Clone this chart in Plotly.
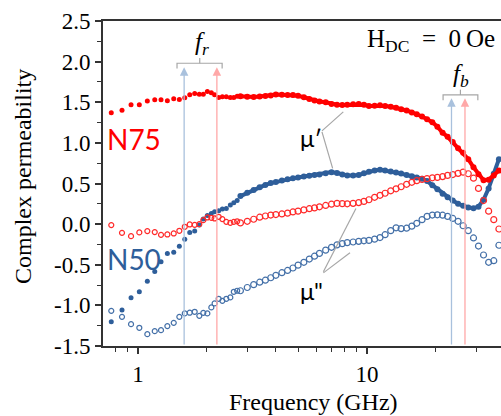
import numpy as np
import plotly.graph_objects as go

# ---------------- data ----------------
f_sparse = [0.764, 0.851, 0.932, 1.013, 1.098, 1.183, 1.26, 1.343, 1.432, 1.515, 1.60, 1.682,
            1.768, 1.852, 1.928, 2.008, 2.09, 2.16, 2.25, 2.335, 2.43, 2.53, 2.62, 2.71]
n75_mu1_sparse = [1.370, 1.403, 1.468, 1.468, 1.514, 1.530, 1.530, 1.518, 1.542, 1.535, 1.555, 1.592,
                  1.608, 1.600, 1.600, 1.633, 1.616, 1.592, 1.559, 1.567, 1.567, 1.559, 1.559, 1.575]
n75_mu2_sparse = [-0.012, -0.107, -0.148, -0.102, -0.086, -0.098, -0.132, -0.127, -0.115, -0.082, -0.033, -0.004,
                  -0.009, 0.000, 0.049, 0.082, 0.078, 0.070, 0.090, 0.062, 0.028, 0.016, 0.028, 0.035]
n50_mu1_sparse = [-1.202, -1.058, -0.907, -0.833, -0.702, -0.582, -0.464, -0.361, -0.345, -0.271, -0.185, -0.103,
                  -0.086, -0.010, 0.062, 0.107, 0.130, 0.152, 0.164, 0.185, 0.193, 0.234, 0.262, 0.290]
n50_mu2_sparse = [-1.067, -1.141, -1.231, -1.276, -1.354, -1.317, -1.305, -1.255, -1.215, -1.141, -1.099, -1.090,
                  -1.079, -1.129, -1.092, -1.099, -1.025, -0.976, -0.919, -0.944, -0.919, -0.902, -0.833, -0.820]

f_dense = [2.8, 3.0, 3.2, 3.4, 3.6, 3.8, 4.0, 4.25, 4.5, 4.75, 5.0, 5.3, 5.6, 5.9, 6.2, 6.6, 7.0, 7.4, 7.8,
           8.2, 8.7, 9.2, 9.7, 10.2, 10.8, 11.4, 12.0, 12.7, 13.4, 14.1, 14.9, 15.7, 16.5, 17.4, 18.3, 19.3,
           20.3, 21.4, 22.5, 23.7, 25.0, 26.3, 27.7, 29.2, 30.7, 32.3, 34.0, 35.8, 37.7]
n75_mu1_dense = [1.575, 1.567, 1.565, 1.570, 1.578, 1.582, 1.596, 1.592, 1.588, 1.590, 1.580, 1.562, 1.540,
                 1.522, 1.510, 1.500, 1.480, 1.470, 1.465, 1.468, 1.474, 1.478, 1.470, 1.455, 1.458, 1.462,
                 1.455, 1.445, 1.432, 1.415, 1.398, 1.375, 1.352, 1.325, 1.290, 1.255, 1.200, 1.125, 1.075,
                 1.010, 0.935, 0.880, 0.800, 0.700, 0.615, 0.540, 0.545, 0.600, 0.660]
n75_mu2_dense = [0.015, 0.035, 0.060, 0.085, 0.100, 0.112, 0.118, 0.125, 0.135, 0.150, 0.160, 0.175, 0.190,
                 0.200, 0.213, 0.230, 0.245, 0.255, 0.252, 0.250, 0.256, 0.265, 0.280, 0.300, 0.330, 0.355,
                 0.380, 0.410, 0.435, 0.460, 0.490, 0.515, 0.535, 0.550, 0.560, 0.570, 0.575, 0.585, 0.600,
                 0.610, 0.625, 0.640, 0.620, 0.565, 0.440, 0.290, 0.160, 0.055, -0.060]
n50_mu1_dense = [0.345, 0.385, 0.420, 0.455, 0.482, 0.505, 0.520, 0.538, 0.552, 0.565, 0.575, 0.585, 0.595,
                 0.605, 0.612, 0.625, 0.640, 0.630, 0.610, 0.600, 0.598, 0.605, 0.625, 0.645, 0.660, 0.670,
                 0.660, 0.648, 0.635, 0.622, 0.605, 0.590, 0.575, 0.560, 0.530, 0.480, 0.430, 0.375, 0.330,
                 0.290, 0.250, 0.225, 0.205, 0.195, 0.215, 0.300, 0.440, 0.620, 0.800]
n50_mu2_dense = [-0.820, -0.780, -0.745, -0.715, -0.690, -0.660, -0.630, -0.598, -0.570, -0.540, -0.505,
                 -0.470, -0.430, -0.395, -0.360, -0.320, -0.285, -0.255, -0.240, -0.228, -0.220, -0.212,
                 -0.205, -0.200, -0.185, -0.165, -0.130, -0.080, -0.045, -0.055, -0.050, -0.025, 0.010,
                 0.055, 0.095, 0.112, 0.115, 0.110, 0.095, 0.070, 0.035, -0.020, -0.080, -0.170, -0.270,
                 -0.380, -0.470, -0.450, -0.260]

# characteristic frequencies (GHz)
fr_n50, fr_n75 = 1.59, 2.21
fb_n50, fb_n75 = 23.4, 26.8
fr_bracket = [1.48, 1.86, 2.33]
fb_bracket = [21.5, 25.6, 30.5]

y_ticks = [-1.5, -1.0, -0.5, 0.0, 0.5, 1.0, 1.5, 2.0, 2.5]
y_ticktext = ['-1.5', '-1.0', '-0.5', '0.0', '0.5', '1.0', '1.5', '2.0', '2.5']
x_ticks = [1, 10]
x_minor = [0.8, 0.9, 2, 3, 4, 5, 6, 7, 8, 9, 20, 30]

RED = '#FF0000'
RED_O = '#FF2A2A'
BLUE = '#2E5E9A'
BLUE_O = '#4470A8'
GRAY = '#A6A6A6'

fig = go.Figure()

def add_filled(fs, ys, fd, yd, color):
    fig.add_trace(go.Scatter(x=fs, y=ys, mode='markers',
                             marker=dict(size=5, color=color), hoverinfo='skip'))
    fig.add_trace(go.Scatter(x=fd, y=yd, mode='lines+markers',
                             line=dict(color=color, width=4),
                             marker=dict(size=6, color=color), hoverinfo='skip'))

def add_open(fs, ys, fd, yd, color):
    fig.add_trace(go.Scatter(x=fs, y=ys, mode='markers',
                             marker=dict(size=5, symbol='circle-open', color=color,
                                         line=dict(width=1.2, color=color)), hoverinfo='skip'))
    fig.add_trace(go.Scatter(x=fd, y=yd, mode='markers',
                             marker=dict(size=6, symbol='circle-open', color=color,
                                         line=dict(width=1.2, color=color)), hoverinfo='skip'))

add_open(f_sparse, n50_mu2_sparse, f_dense, n50_mu2_dense, BLUE_O)
add_filled(f_sparse, n50_mu1_sparse, f_dense, n50_mu1_dense, BLUE)
add_open(f_sparse, n75_mu2_sparse, f_dense, n75_mu2_dense, RED_O)
add_filled(f_sparse, n75_mu1_sparse, f_dense, n75_mu1_dense, RED)

# brackets
def bracket(b, ytop, h):
    fig.add_trace(go.Scatter(x=[b[0], b[0], b[2], b[2]], y=[ytop - h, ytop, ytop, ytop - h],
                             mode='lines', line=dict(color=GRAY, width=1.2), hoverinfo='skip'))
    fig.add_trace(go.Scatter(x=[b[1], b[1]], y=[ytop, ytop + h], mode='lines',
                             line=dict(color=GRAY, width=1.2), hoverinfo='skip'))

bracket(fr_bracket, 1.98, 0.065)
bracket(fb_bracket, 1.59, 0.065)

# leader lines for mu' and mu''
leaders = [([6.36, 7.88], [1.148, 1.382]), ([6.36, 7.08], [1.136, 0.686]),
           ([6.45, 8.95], [-0.587, 0.193]), ([6.45, 8.43], [-0.60, -0.353])]
for lx, ly in leaders:
    fig.add_trace(go.Scatter(x=lx, y=ly, mode='lines', line=dict(color=GRAY, width=1.2),
                             hoverinfo='skip'))

annotations = []
# vertical arrows
for f, col, ytip in [(fr_n50, '#A9C1DD', 1.93), (fr_n75, '#FFA8A8', 1.93),
                     (fb_n50, '#A9C1DD', 1.55), (fb_n75, '#FFA8A8', 1.55)]:
    annotations.append(dict(x=np.log10(f), y=ytip, ax=np.log10(f), ay=-1.5, xref='x', yref='y',
                            axref='x', ayref='y', text='', showarrow=True, arrowhead=2,
                            arrowsize=1.3, arrowwidth=1.3, arrowcolor=col, standoff=0))

def px2paper(px, py):
    return (px - 103) / 398.0, (346 - py) / 325.0

def txt(text, px, py, size, color='black', family='Lato', xanchor='center', angle=0):
    x, y = px2paper(px, py)
    annotations.append(dict(x=x, y=y, xref='paper', yref='paper', text=text, showarrow=False,
                            xanchor=xanchor, yanchor='middle', textangle=angle,
                            font=dict(size=size, color=color, family=family)))

txt('N75', 105, 139, 28, RED, xanchor='left')
txt('N50', 105, 259, 28, BLUE, xanchor='left')
txt('μ′', 311, 137, 24)
txt('μ"', 311, 290, 24)
txt('H<sub>DC</sub>\u2002=\u20020\u2009Oe', 497, 40, 25, family='Liberation Serif', xanchor='right')
txt('<i>f</i><sub><i>r</i></sub>', 202, 43, 25, family='Liberation Serif')
txt('<i>f</i><sub><i>b</i></sub>', 461, 75, 25, family='Liberation Serif')
txt('Frequency (GHz)', 313, 402, 24, family='Liberation Serif')
txt('Complex permeability', 23, 177, 24, family='Liberation Serif', angle=-90)

fig.update_layout(
    width=501, height=416,
    margin=dict(l=103, r=0, t=21, b=70),
    paper_bgcolor='white', plot_bgcolor='white',
    showlegend=False,
    annotations=annotations,
    xaxis=dict(type='log', range=[np.log10(0.703), np.log10(38.5)],
               tickmode='array', tickvals=x_ticks, ticktext=['1', '10'],
               ticks='outside', ticklen=6, tickwidth=1.5, tickcolor='#333',
               showline=True, linecolor='#333', linewidth=2, mirror=True,
               showgrid=False, zeroline=False,
               tickfont=dict(family='Liberation Serif', size=23, color='black'),
               minor=dict(tickmode='array', tickvals=x_minor, ticks='outside', ticklen=4,
                          tickwidth=1.2, tickcolor='#333', showgrid=False)),
    yaxis=dict(range=[-1.5, 2.5], tickmode='array', tickvals=y_ticks, ticktext=y_ticktext,
               ticks='outside', ticklen=6, tickwidth=1.5, tickcolor='#333',
               showline=True, linecolor='#333', linewidth=2,
               showgrid=False, zeroline=False,
               tickfont=dict(family='Liberation Serif', size=23, color='black'),
               minor=dict(tickmode='linear', tick0=-1.5, dtick=0.25, ticks='outside', ticklen=4,
                          tickwidth=1.2, tickcolor='#333', showgrid=False)),
)

fig.write_html('out.html', config={'displayModeBar': False},
               post_script="document.body.style.margin='0';document.body.style.overflow='hidden';")
